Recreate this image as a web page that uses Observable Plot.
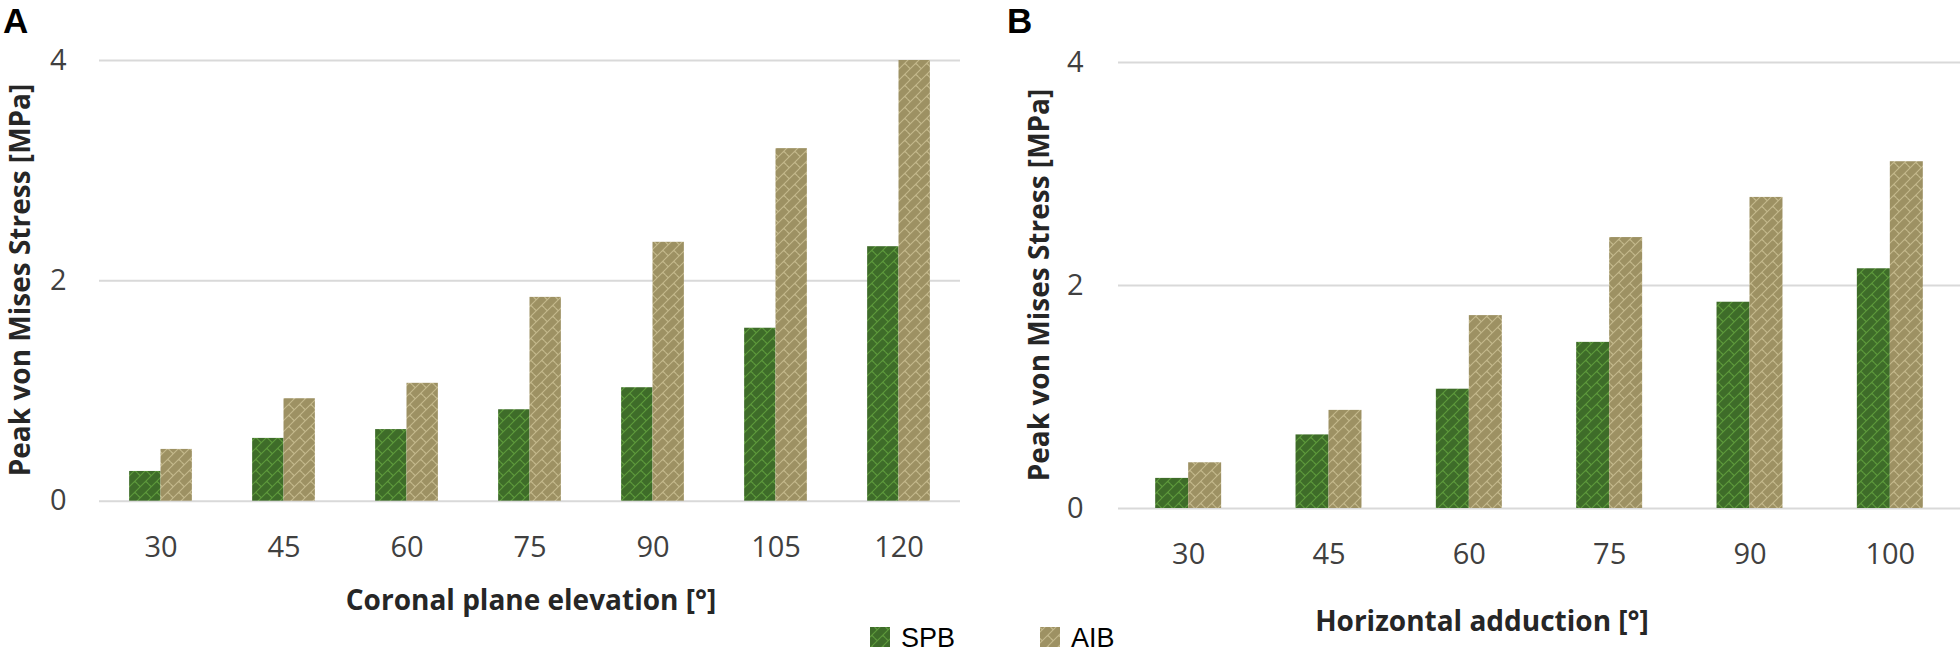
<!DOCTYPE html>
<html>
<head>
<meta charset="utf-8">
<script src="https://cdn.jsdelivr.net/npm/d3@7"></script>
<script src="https://cdn.jsdelivr.net/npm/@observablehq/plot@0.6"></script>
<style>
  html, body { margin: 0; padding: 0; background: #fff; }
  #wrap { position: relative; width: 1960px; height: 654px; overflow: hidden; background: #fff; }
  #wrap > svg { position: absolute; top: 0; }
</style>
</head>
<body>
<div id="wrap"></div>
<script>
// ---- Data ----
const catsA = ["30", "45", "60", "75", "90", "105", "120"];
const spbA  = [0.27, 0.57, 0.65, 0.83, 1.03, 1.57, 2.31];
const aibA  = [0.47, 0.93, 1.07, 1.85, 2.35, 3.20, 4.00];

const catsB = ["30", "45", "60", "75", "90", "100"];
const spbB  = [0.27, 0.66, 1.07, 1.49, 1.85, 2.15];
const aibB  = [0.41, 0.88, 1.73, 2.43, 2.79, 3.11];

const yTicks = [0, 2, 4];
const seriesNames = ["SPB", "AIB"];
const panelLetters = ["A", "B"];
const xTitles = ["Coronal plane elevation [°]", "Horizontal adduction [°]"];
const yTitle = "Peak von Mises Stress [MPa]";

const wrap = document.getElementById("wrap");
const NS = "http://www.w3.org/2000/svg";

// ---- Overlay svg with patterns, titles, legend ----
const ov = document.createElementNS(NS, "svg");
ov.setAttribute("width", 1960);
ov.setAttribute("height", 654);
ov.style.left = "0px";
ov.style.pointerEvents = "none";
ov.style.zIndex = 2;
ov.innerHTML = `
<defs>
  <pattern id="pSPB" width="11" height="11" patternUnits="userSpaceOnUse">
    <rect width="11" height="11" fill="#3e6c29"/>
    <path d="M0,11 L11,0 M-1,1 L1,-1 M10,12 L12,10 M2.75,8.25 L5.5,11 M5.5,0 L8.25,2.75" stroke="#5d9a3b" stroke-width="1.1" fill="none"/>
  </pattern>
  <pattern id="pAIB" width="11" height="11" patternUnits="userSpaceOnUse">
    <rect width="11" height="11" fill="#9d9163"/>
    <path d="M0,11 L11,0 M-1,1 L1,-1 M10,12 L12,10 M2.75,8.25 L5.5,11 M5.5,0 L8.25,2.75" stroke="#c4b98c" stroke-width="1.1" fill="none"/>
  </pattern>
</defs>`;
wrap.appendChild(ov);

function addText(str, x, y, opts = {}) {
  const t = document.createElementNS(NS, "text");
  t.textContent = str;
  t.setAttribute("x", x);
  t.setAttribute("y", y);
  t.setAttribute("font-family", opts.family || "'Open Sans', sans-serif");
  t.setAttribute("font-size", opts.size || 28);
  t.setAttribute("font-weight", opts.weight || "bold");
  t.setAttribute("fill", opts.fill || "#262626");
  if (opts.anchor) t.setAttribute("text-anchor", opts.anchor);
  if (opts.transform) t.setAttribute("transform", opts.transform);
  ov.appendChild(t);
  return t;
}

// ---- Chart builder ----
function panel(cats, spb, aib, cfg) {
  const rows = cats.map((c, i) => ({cat: c, spb: spb[i], aib: aib[i]}));
  const pInner = cfg.pInner;
  const step = (cfg.width - cfg.ml - cfg.mr) / cats.length;
  const bw = step * (1 - pInner);
  const p = Plot.plot({
    width: cfg.width,
    height: 654,
    marginLeft: cfg.ml,
    marginRight: cfg.mr,
    marginTop: cfg.mt,
    marginBottom: cfg.mb,
    style: {fontFamily: "'Open Sans', sans-serif", fontSize: "29px", color: "#404040", background: "transparent", overflow: "visible"},
    x: {type: "band", domain: cats, paddingInner: pInner, paddingOuter: pInner / 2, round: false, axis: null},
    y: {domain: [0, 4], axis: null},
    marks: [
      Plot.ruleY(yTicks, {stroke: "#d9d9d9", strokeWidth: 2}),
      Plot.barY(rows, {x: "cat", y: "spb", fill: "url(#pSPB)", insetLeft: 0, insetRight: bw / 2}),
      Plot.barY(rows, {x: "cat", y: "aib", fill: "url(#pAIB)", insetRight: 0, insetLeft: bw / 2}),
      Plot.axisY({ticks: yTicks, tickFormat: d => String(d), tickSize: 0, tickPadding: cfg.yPad, label: null, fill: "#404040"}),
      Plot.axisX({tickSize: 0, tickPadding: 35, label: null, fill: "#404040"})
    ]
  });
  p.style.left = cfg.left + "px";
  p.style.zIndex = 1;
  wrap.appendChild(p);
}

panel(catsA, spbA, aibA, {left: 0, width: 980, ml: 99, mr: 20, mt: 60, mb: 153.3, pInner: 0.49, yPad: 33});
panel(catsB, spbB, aibB, {left: 1000, width: 960, ml: 118, mr: 0, mt: 62, mb: 146, pInner: 0.53, yPad: 35});

// panel letters
addText(panelLetters[0], 3, 33, {family: "'Liberation Sans', Arial, sans-serif", size: 35, fill: "#000"});
addText(panelLetters[1], 1007, 33, {family: "'Liberation Sans', Arial, sans-serif", size: 35, fill: "#000"});

// axis titles
addText(yTitle, 0, 0, {anchor: "middle", size: 28, transform: "translate(30,280) rotate(-90)"});
addText(yTitle, 0, 0, {anchor: "middle", size: 28, transform: "translate(1049,285) rotate(-90)"});
addText(xTitles[0], 531, 610, {anchor: "middle", size: 28});
addText(xTitles[1], 1482, 631, {anchor: "middle", size: 28});

// legend
const legendItems = [
  {name: seriesNames[0], fill: "url(#pSPB)", x: 870},
  {name: seriesNames[1], fill: "url(#pAIB)", x: 1040}
];
for (const it of legendItems) {
  const r = document.createElementNS(NS, "rect");
  r.setAttribute("x", it.x);
  r.setAttribute("y", 627);
  r.setAttribute("width", 20);
  r.setAttribute("height", 20);
  r.setAttribute("fill", it.fill);
  ov.appendChild(r);
  addText(it.name, it.x + 31, 647, {family: "'Liberation Sans', Arial, sans-serif", size: 27, weight: "normal", fill: "#000"});
}
</script>
</body>
</html>
